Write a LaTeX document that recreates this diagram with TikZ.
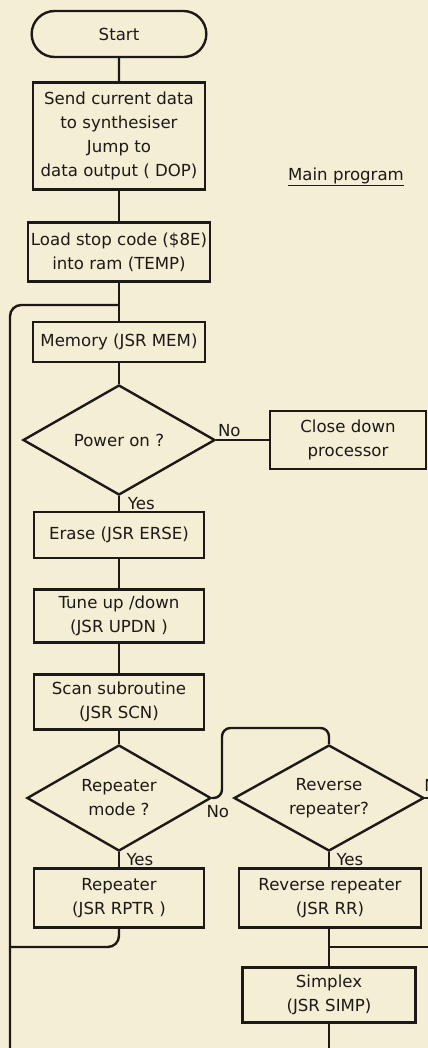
\documentclass[tikz,border=0pt]{standalone}
\usepackage{fontspec}
\setmainfont{DejaVu Sans}
\usepackage{xcolor}
\usetikzlibrary{shapes.geometric, shapes.misc, positioning}
\definecolor{paper}{RGB}{244,238,212}
\definecolor{ink}{RGB}{28,25,24}
\tikzset{
  block/.style={rectangle, draw=ink, line width=1.7pt, align=center,
                inner sep=2pt, minimum width=4.3cm, text=ink},
  decision/.style={diamond, draw=ink, line width=1.7pt, align=center,
                   aspect=1.8, inner sep=0pt, text=ink},
  terminal/.style={rounded rectangle, draw=ink, line width=1.7pt,
                   minimum width=4.6cm, minimum height=1.15cm, text=ink},
  flow/.style={draw=ink, line width=1.7pt},
  tag/.style={text=ink, inner sep=1.5pt},
}

\begin{document}
\begin{tikzpicture}[x=0.025cm, y=-0.025cm,
    every node/.style={font=\fontsize{11.8}{17}\selectfont}]
  \fill[paper] (0,0) rectangle (428,1048);
  \useasboundingbox (0,0) rectangle (428,1048);

  % main column
  \node[terminal] (start) at (119,34) {Start};
  \node[block, minimum height=2.675cm] (send) at (119,136)
    {Send current data\\to synthesiser\\Jump to\\data output ( DOP)};
  \node[block, minimum height=1.475cm] (load) at (119,252)
    {Load stop code (\$8E)\\into ram (TEMP)};
  \node[block, minimum height=1cm] (mem) at (119,342) {Memory (JSR MEM)};
  \node[decision, minimum width=4.8cm, minimum height=2.75cm] (power) at (119,440)
    {Power on ?};
  \node[block, minimum width=3.9cm, minimum height=1.45cm] (close) at (348,440)
    {Close down\\processor};
  \node[block, minimum width=4.25cm, minimum height=1.15cm] (erase) at (119,535)
    {Erase (JSR ERSE)};
  \node[block, minimum width=4.25cm, minimum height=1.325cm] (tune) at (119,616)
    {Tune up /down\\(JSR UPDN )};
  \node[block, minimum width=4.25cm, minimum height=1.375cm] (scan) at (119,702)
    {Scan subroutine\\(JSR SCN)};
  \node[decision, minimum width=4.6cm, minimum height=2.65cm] (rptmode) at (119,798)
    {Repeater\\mode ?};
  \node[block, minimum width=4.25cm, minimum height=1.475cm] (rptr) at (119,898)
    {Repeater\\(JSR RPTR )};

  % right column
  \node[decision, minimum width=4.75cm, minimum height=2.65cm] (revq) at (329,798)
    {Reverse\\repeater?};
  \node[block, minimum width=4.55cm, minimum height=1.475cm] (rr) at (330,898)
    {Reverse repeater\\(JSR RR)};
  \node[block, minimum width=4.325cm, minimum height=1.375cm] (simp) at (329,995)
    {Simplex\\(JSR SIMP)};

  \node[tag] (title) at (346,177) {\underline{Main program}};

  % free ends and bends
  \coordinate (merge)   at (119,305);
  \coordinate (loopend) at (10,1048);
  \coordinate (back)    at (10,947);
  \coordinate (jog)     at (222,728);
  \coordinate (revqout) at (428,798);
  \coordinate (simpout) at (428,947);
  \coordinate (simpend) at (329,1048);

  \draw[flow] (start) -- (send);
  \draw[flow] (send)  -- (load);
  \draw[flow] (load)  -- (mem);
  \draw[flow] (mem)   -- (power);
  \draw[flow] (power.east) -- node[tag, pos=0.25, above]{No} (close.west);
  \draw[flow] (power.south) -- node[tag, pos=0.5, right=4pt]{Yes} (erase.north);
  \draw[flow] (erase) -- (tune);
  \draw[flow] (tune)  -- (scan);
  \draw[flow] (scan)  -- (rptmode);
  \draw[flow] (rptmode.south) -- node[tag, pos=0.5, right=3pt]{Yes} (rptr.north);
  \draw[flow, rounded corners=6pt] (rptmode.east)
    node[tag, below, xshift=4pt, yshift=-3pt]{No} -| (jog) -| (revq.north);
  \draw[flow] (revq.south) -- node[tag, pos=0.5, right=3pt]{Yes} (revq.south |- rr.north);
  \draw[flow] (revq.east) node[tag, anchor=south west, xshift=-3pt, yshift=2pt]{No}
    -- (revqout);
  \draw[flow] (revq.south |- rr.south) -- (simp);
  \draw[flow] (simp.north |- simpout) -- (simpout);
  \draw[flow] (simp) -- (simpend);
  \draw[flow, rounded corners=8pt] (merge) -| (loopend);
  \draw[flow, rounded corners=8pt] (rptr.south) |- (back);
\end{tikzpicture}
\end{document}
